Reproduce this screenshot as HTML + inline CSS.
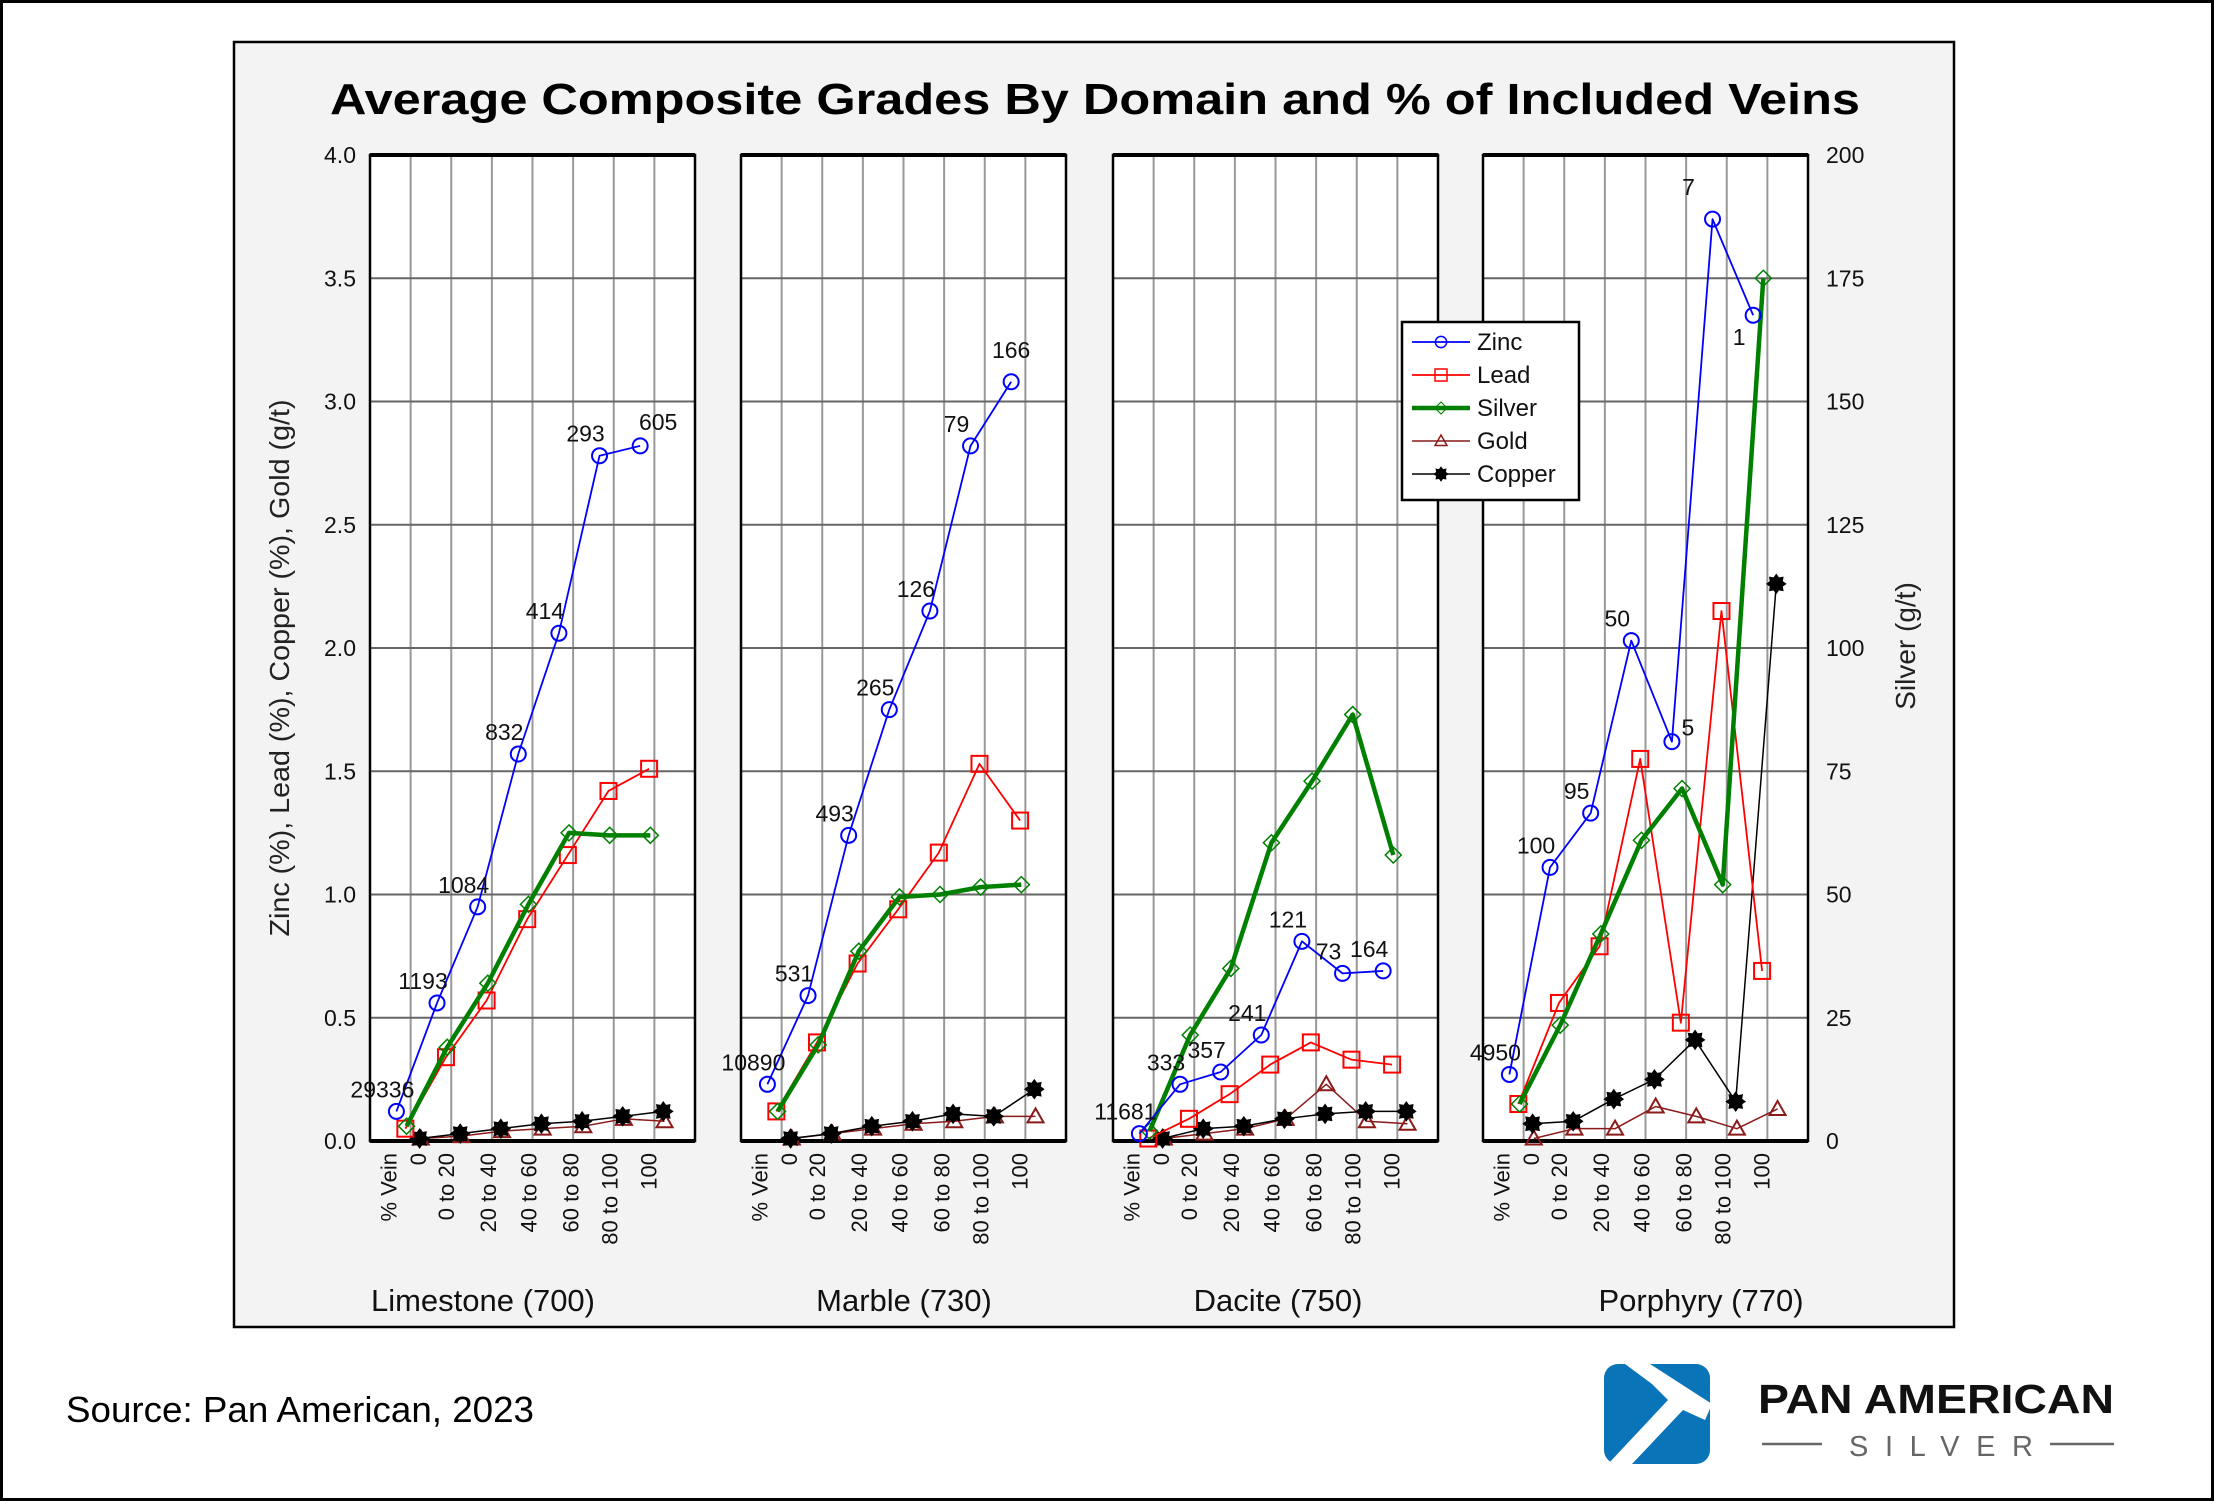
<!DOCTYPE html>
<html><head><meta charset="utf-8"><style>
html,body{margin:0;padding:0;background:#fff;}
svg{display:block;font-family:"Liberation Sans",Arial,sans-serif;}
</style></head><body>
<svg id="chart" width="2214" height="1501" viewBox="0 0 2214 1501">
<rect x="1.5" y="1.5" width="2211" height="1498" fill="#fff" stroke="#000" stroke-width="3"/>
<rect x="234" y="42" width="1720" height="1285" fill="#f3f3f3" stroke="#000" stroke-width="2.5"/>
<text x="1095" y="114" text-anchor="middle" font-size="44" font-weight="bold" textLength="1530" lengthAdjust="spacingAndGlyphs">Average Composite Grades By Domain and % of Included Veins</text>
<g id="plots"></g>
<text transform="translate(289,668) rotate(-90)" text-anchor="middle" font-size="28" fill="#222" textLength="537" lengthAdjust="spacingAndGlyphs">Zinc (%), Lead (%), Copper (%), Gold (g/t)</text>
<text transform="translate(1915,646) rotate(-90)" text-anchor="middle" font-size="28" fill="#222">Silver (g/t)</text>
<g id="legend"></g>
<text x="66" y="1422" font-size="36" fill="#000" textLength="468" lengthAdjust="spacingAndGlyphs">Source: Pan American, 2023</text>
<g>
<rect x="1604" y="1364" width="106" height="100" rx="14" fill="#0a74b8"/>
<polygon points="1625,1364 1650,1364 1712,1404 1705,1420 1683,1410 1632,1464 1608,1464 1668,1400 1652,1384" fill="#fff"/>
<text x="1758" y="1413" font-size="41" font-weight="bold" textLength="356" lengthAdjust="spacingAndGlyphs" fill="#111">PAN AMERICAN</text>
<text x="1849" y="1456" font-size="29" textLength="184" lengthAdjust="spacing" fill="#666">SILVER</text>
<line x1="1762" y1="1444" x2="1822" y2="1444" stroke="#666" stroke-width="2.5"/>
<line x1="2050" y1="1444" x2="2114" y2="1444" stroke="#666" stroke-width="2.5"/>
</g>
</svg>
<script>
// ---- data ----
const domains = ["Limestone (700)","Marble (730)","Dacite (750)","Porphyry (770)"];
const categoryLabels = ["% Vein","0","0 to 20","20 to 40","40 to 60","60 to 80","80 to 100","100"];
const leftTicks = ["0.0","0.5","1.0","1.5","2.0","2.5","3.0","3.5","4.0"];
const rightTicks = ["0","25","50","75","100","125","150","175","200"];
const zinc = [
  [0.12,0.56,0.95,1.57,2.06,2.78,2.82],
  [0.23,0.59,1.24,1.75,2.15,2.82,3.08],
  [0.03,0.23,0.28,0.43,0.81,0.68,0.69],
  [0.27,1.11,1.33,2.03,1.62,3.74,3.35]];
const zincCounts = [
  ["29336","1193","1084","832","414","293","605"],
  ["10890","531","493","265","126","79","166"],
  ["11681","333","357","241","121","73","164"],
  ["4950","100","95","50","5","7","1"]];
const lead = [
  [0.05,0.34,0.57,0.90,1.16,1.42,1.51],
  [0.12,0.40,0.72,0.94,1.17,1.53,1.30],
  [0.01,0.09,0.19,0.31,0.40,0.33,0.31],
  [0.15,0.56,0.79,1.55,0.48,2.15,0.69]];
const silver = [ // g/t, right axis
  [3,19,32,48,62.5,62,62],
  [6,19.5,38.5,49.5,50,51.5,52],
  [2,21.5,35,60.5,73,86.5,58],
  [7.5,23.5,42,61,71.5,52,175]];
const gold = [
  [0.01,0.02,0.04,0.05,0.06,0.09,0.08],
  [0.01,0.03,0.05,0.07,0.08,0.10,0.10],
  [0.01,0.03,0.05,0.09,0.23,0.08,0.07],
  [0.01,0.05,0.05,0.14,0.10,0.05,0.13]];
const copper = [
  [0.01,0.03,0.05,0.07,0.08,0.10,0.12],
  [0.01,0.03,0.06,0.08,0.11,0.10,0.21],
  [0.01,0.05,0.06,0.09,0.11,0.12,0.12],
  [0.07,0.08,0.17,0.25,0.41,0.16,2.26]];

// ---- layout ----
const NS="http://www.w3.org/2000/svg";
const panelLeft=[370,741,1113,1483], PW=325, TOP=155, BOT=1141;
const domainCenter=[483,904,1278,1701];
const step=PW/8;
function yL(v){return BOT-(v/4)*(BOT-TOP);}
function yR(v){return BOT-(v/200)*(BOT-TOP);}
function xC(p,i,off){return panelLeft[p]+(i+off)*step;}
function mk(tag,attrs,parent){const e=document.createElementNS(NS,tag);for(const k in attrs)e.setAttribute(k,attrs[k]);parent.appendChild(e);return e;}
const plots=document.getElementById('plots');
const labelPos=[0.45,1.18,1.87,2.9,3.9,4.93,5.9,6.85];

function marker(shape,x,y,color,g){
  let e;
  if(shape==='circle'){e=mk('circle',{cx:x,cy:y,r:7.5,fill:'none',stroke:color,'stroke-width':2},g);}
  else if(shape==='square'){e=mk('rect',{x:x-8,y:y-8,width:16,height:16,fill:'none',stroke:color,'stroke-width':2},g);}
  else if(shape==='diamond'){e=mk('polygon',{points:`${x},${y-8} ${x+8},${y} ${x},${y+8} ${x-8},${y}`,fill:'none',stroke:color,'stroke-width':1.5},g);}
  else if(shape==='triangle'){e=mk('polygon',{points:`${x},${y-8} ${x+8},${y+6} ${x-8},${y+6}`,fill:'none',stroke:color,'stroke-width':2},g);}
  else {let pts=[];for(let k=0;k<16;k++){const r=k%2?6.5:9.5;const a=k*Math.PI/8;pts.push((x+r*Math.cos(a)).toFixed(1)+','+(y+r*Math.sin(a)).toFixed(1));}
    e=mk('polygon',{points:pts.join(' '),fill:'#000',stroke:'#000'},g);}
  return e;
}
const series=[
  {name:'gold',data:gold,color:'#8b1a1a',w:1.5,off:1.25,shape:'triangle',axis:'L'},
  {name:'copper',data:copper,color:'#000',w:1.5,off:1.22,shape:'star',axis:'L'},
  {name:'lead',data:lead,color:'#ff0000',w:1.8,off:0.87,shape:'square',axis:'L'},
  {name:'silver',data:silver,color:'#008000',w:4.5,off:0.9,shape:'diamond',axis:'R'},
  {name:'zinc',data:zinc,color:'#0000ff',w:1.8,off:0.65,shape:'circle',axis:'L'}];

for(let p=0;p<4;p++){
  const g=mk('g',{},plots);
  
  
  const bg=mk('rect',{x:panelLeft[p],y:TOP,width:PW,height:BOT-TOP,fill:'#fff'},g);
  
  
  for(let i=1;i<8;i++){const l=mk('line',{x1:panelLeft[p]+i*step,x2:panelLeft[p]+i*step,y1:TOP,y2:BOT,stroke:'#999','stroke-width':2},g);
    
    }
  for(let t=1;t<8;t++){const y=yL(t*0.5);const l=mk('line',{x1:panelLeft[p],x2:panelLeft[p]+PW,y1:y,y2:y,stroke:'#666','stroke-width':2},g);
    
    }
  const br=mk('rect',{x:panelLeft[p],y:TOP,width:PW,height:BOT-TOP,fill:'none',stroke:'#000','stroke-width':2.5},g);
  
  
  mk('line',{x1:panelLeft[p],x2:panelLeft[p]+PW,y1:TOP,y2:TOP,stroke:'#000','stroke-width':4},g);
  mk('line',{x1:panelLeft[p],x2:panelLeft[p]+PW,y1:BOT,y2:BOT,stroke:'#000','stroke-width':4},g);
  for(let i=0;i<categoryLabels.length;i++){
    const x=panelLeft[p]+labelPos[i]*step+8;
    const t=mk('text',{transform:`translate(${x},1153) rotate(-90)`,'text-anchor':'end','font-size':22,fill:'#111'},g);
    t.textContent=categoryLabels[i];
    
    
  }
  const dl=mk('text',{x:domainCenter[p],y:1311,'text-anchor':'middle','font-size':31,fill:'#111'},g);
  dl.textContent=domains[p];
  
  
  for(const s of series){
    const vals=s.data[p];
    const pts=vals.map((v,i)=>[xC(p,i,s.off),s.axis==='L'?yL(v):yR(v)]);
    const pl=mk('polyline',{points:pts.map(q=>q.join(',')).join(' '),fill:'none',stroke:s.color,'stroke-width':s.w,'stroke-linejoin':'round'},g);
    
    
    pts.forEach(q=>{const m=marker(s.shape,q[0],q[1],s.color,g);
      
      });
  }
  zinc[p].forEach((v,i)=>{
    let x=xC(p,i,0.65)-14,y=yL(v)-14;
    const lab=zincCounts[p][i];
    if(p===0&&i===6){x+=32;y-=2;}
    if(p===1&&i===6){x+=14;y-=10;}
    if(p===3&&i===4){x+=30;y+=8;}
    if(p===3&&i===6){x+=0;y+=44;}
    if(p===3&&i===5){x-=10;y-=10;}
    const t=mk('text',{x:x,y:y,'text-anchor':'middle','font-size':23,fill:'#111'},g);
    t.textContent=lab;
    
    
  });
}
leftTicks.forEach((s,i)=>{const t=mk('text',{x:356,y:yL(i*0.5)+8,'text-anchor':'end','font-size':23,fill:'#111'},plots);t.textContent=s;
  
  });
rightTicks.forEach((s,i)=>{const t=mk('text',{x:1826,y:yR(i*25)+8,'font-size':23,fill:'#111'},plots);t.textContent=s;
  
  });
const lg=document.getElementById('legend');
mk('rect',{x:1402,y:322,width:177,height:178,fill:'#fff',stroke:'#000','stroke-width':2.5},lg);
const legendNames=['Zinc','Lead','Silver','Gold','Copper'];
const legendSeries=[series[4],series[2],series[3],series[0],series[1]];
legendNames.forEach((n,k)=>{
  const y=342+k*33,s=legendSeries[k];
  const e=mk('g',{},lg);
  
  
  mk('line',{x1:1412,x2:1470,y1:y,y2:y,stroke:s.color,'stroke-width':s.w},e);
  const m=marker(s.shape,1441,y,s.color,e);m.setAttribute('transform',`translate(${1441*0.25},${y*0.25}) scale(0.75)`);
  const t=mk('text',{x:1477,y:y+8,'font-size':24,fill:'#111'},e);t.textContent=n;
});
</script>
</body></html>
